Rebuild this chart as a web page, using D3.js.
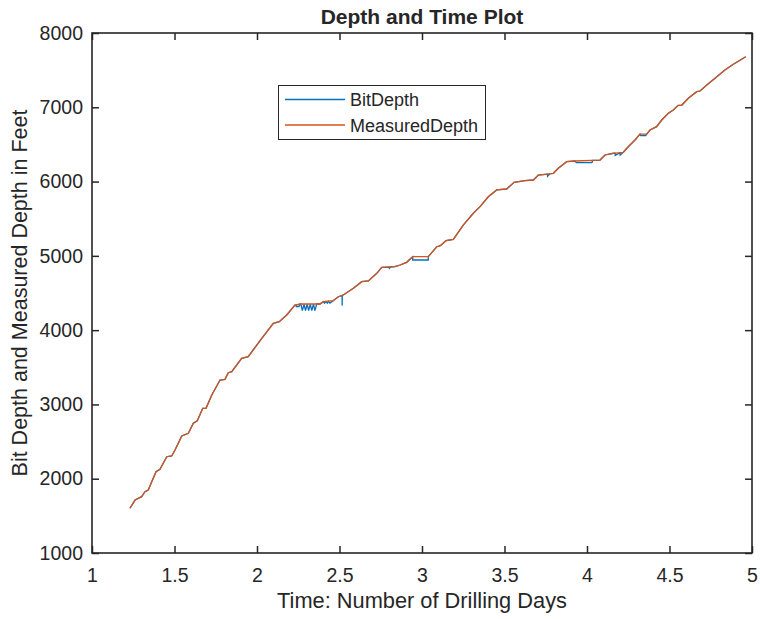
<!DOCTYPE html>
<html>
<head>
<meta charset="utf-8">
<script src="https://cdn.jsdelivr.net/npm/d3@7"></script>
<style>
  body { margin: 0; background: #fff; }
  svg { display: block; }
  text { font-family: "Liberation Sans", Arial, Helvetica, sans-serif; fill: #262626; }
</style>
</head>
<body>
<svg id="chart" width="760" height="619"></svg>
<script>
// ---- data ----
const measuredTime = [1.230,1.261,1.301,1.321,1.341,1.362,1.388,1.412,1.453,1.483,
  1.503,1.544,1.584,1.614,1.638,1.671,1.691,1.726,1.776,1.806,
  1.826,1.847,1.907,1.947,2.029,2.099,2.135,2.180,2.230,2.261,
  2.382,2.402,2.462,2.493,2.523,2.584,2.635,2.675,2.726,2.756,
  2.836,2.867,2.907,2.944,3.038,3.059,3.089,3.109,3.146,3.190,
  3.250,3.311,3.352,3.402,3.453,3.513,3.558,3.624,3.675,3.705,
  3.796,3.826,3.877,3.927,4.079,4.109,4.159,4.220,4.250,4.291,
  4.321,4.362,4.382,4.422,4.453,4.493,4.523,4.553,4.574,4.614,
  4.665,4.685,4.726,4.776,4.836,4.887,4.962];
const measuredDepth = [1602,1713,1758,1825,1848,1960,2094,2127,2296,2306,
  2387,2575,2611,2746,2781,2948,2948,3127,3329,3338,
  3427,3441,3621,3643,3890,4092,4114,4204,4338,4352,
  4352,4383,4396,4450,4473,4563,4652,4662,4765,4846,
  4854,4877,4913,4989,4989,5043,5123,5133,5204,5223,
  5415,5573,5662,5796,5887,5900,5990,6012,6021,6088,
  6111,6179,6268,6277,6290,6358,6381,6394,6469,6560,
  6638,6638,6694,6739,6829,6919,6963,7027,7027,7121,
  7210,7219,7300,7390,7502,7579,7681];

const bitTime = [1.230,1.261,1.301,1.321,1.341,1.362,1.388,1.412,1.453,1.483,
  1.503,1.544,1.584,1.614,1.638,1.671,1.691,1.726,1.776,1.806,
  1.826,1.847,1.907,1.947,2.029,2.099,2.135,2.180,2.230,2.238,2.238,2.255,2.261,
  2.266,2.275,2.285,2.294,2.304,2.313,2.323,2.332,2.342,2.351,2.362,
  2.382,2.402,2.410,2.418,2.426,2.434,2.442,2.462,2.493,2.516,2.516,2.517,2.523,
  2.584,2.635,2.675,2.726,2.756,2.800,2.802,2.810,
  2.836,2.867,2.907,2.944,2.944,3.038,3.038,3.059,3.089,3.109,3.146,3.190,
  3.250,3.311,3.352,3.402,3.453,3.513,3.558,3.624,3.675,3.705,3.760,3.761,3.775,
  3.796,3.826,3.877,3.927,3.935,4.030,4.034,4.079,4.109,4.159,4.170,4.171,4.200,4.201,4.220,4.250,4.291,
  4.321,4.326,4.356,4.362,4.382,4.422,4.453,4.493,4.523,4.553,4.574,4.614,
  4.665,4.685,4.726,4.776,4.836,4.887,4.962];
const bitDepth = [1602,1713,1758,1825,1848,1960,2094,2127,2296,2306,
  2387,2575,2611,2746,2781,2948,2948,3127,3329,3338,
  3427,3441,3621,3643,3890,4092,4114,4204,4338,4338,4318,4318,4352,
  4352,4262,4350,4262,4350,4262,4350,4262,4350,4262,4352,
  4352,4383,4362,4386,4362,4388,4364,4396,4450,4468,4330,4470,4473,
  4563,4652,4662,4765,4846,4848,4832,4850,
  4854,4877,4913,4989,4944,4944,4989,5043,5123,5133,5204,5223,
  5415,5573,5662,5796,5887,5900,5990,6012,6021,6088,6100,6072,6106,
  6111,6179,6268,6277,6256,6256,6284,6290,6358,6381,6383,6352,6388,6356,6394,6469,6560,
  6638,6618,6618,6638,6694,6739,6829,6919,6963,7027,7027,7121,
  7210,7219,7300,7390,7502,7579,7681];

const xTicks = [1, 1.5, 2, 2.5, 3, 3.5, 4, 4.5, 5];
const yTicks = [1000, 2000, 3000, 4000, 5000, 6000, 7000, 8000];
const seriesNames = ["BitDepth", "MeasuredDepth"];
const seriesColors = ["#0072BD", "#D95319"];

// ---- layout ----
const L = 92, R = 752, T = 33, B = 553;
const svg = d3.select("#chart");
const x = d3.scaleLinear().domain([1, 5]).range([L, R]);
const y = d3.scaleLinear().domain([1000, 8000]).range([B, T]);
const axisColor = "#262626";

// lines
const line = d3.line().x(d => x(d[0])).y(d => y(d[1]));
const bitData = bitTime.map((t, i) => [t, bitDepth[i]]);
const mdData = measuredTime.map((t, i) => [t, measuredDepth[i]]);

svg.append("path").datum(bitData).attr("d", line)
  .attr("fill", "none").attr("stroke", seriesColors[0]).attr("stroke-width", 1.3);
svg.append("path").datum(mdData).attr("d", line)
  .attr("fill", "none").attr("stroke", seriesColors[1]).attr("stroke-width", 1.3);

// axes (box with inward ticks)
const fmt = d => String(d);
function styleAxis(g) {
  g.select(".domain").remove();
  g.selectAll(".tick line").attr("stroke", axisColor).attr("stroke-width", 1.5);
  g.selectAll(".tick text").attr("fill", axisColor)
    .style("font-size", "19.5px").style("font-family", "'Liberation Sans', Arial, sans-serif");
}
svg.append("g").attr("transform", `translate(0,${B})`)
  .call(d3.axisBottom(x).tickValues(xTicks).tickFormat(fmt).tickSizeInner(-7).tickSizeOuter(0).tickPadding(15))
  .call(styleAxis);
svg.append("g").attr("transform", `translate(0,${T})`)
  .call(d3.axisTop(x).tickValues(xTicks).tickFormat("").tickSizeInner(-7).tickSizeOuter(0))
  .call(styleAxis);
svg.append("g").attr("transform", `translate(${L},0)`)
  .call(d3.axisLeft(y).tickValues(yTicks).tickFormat(fmt).tickSizeInner(-7).tickSizeOuter(0).tickPadding(9))
  .call(styleAxis);
svg.append("g").attr("transform", `translate(${R},0)`)
  .call(d3.axisRight(y).tickValues(yTicks).tickFormat("").tickSizeInner(-7).tickSizeOuter(0))
  .call(styleAxis);

svg.append("rect").attr("x", L).attr("y", T).attr("width", R - L).attr("height", B - T)
  .attr("fill", "none").attr("stroke", axisColor).attr("stroke-width", 1.6);

// title and labels
svg.append("text").attr("x", (L + R) / 2).attr("y", 24).attr("text-anchor", "middle")
  .style("font-size", "21px").style("font-weight", "bold").attr("fill", "#000")
  .text("Depth and Time Plot");
svg.append("text").attr("x", (L + R) / 2).attr("y", 608).attr("text-anchor", "middle")
  .style("font-size", "21.8px").text("Time: Number of Drilling Days");
svg.append("text").attr("transform", `translate(27,${(T + B) / 2}) rotate(-90)`)
  .attr("text-anchor", "middle").style("font-size", "21.5px")
  .text("Bit Depth and Measured Depth in Feet");

// legend
const lg = svg.append("g");
lg.append("rect").attr("x", 278.5).attr("y", 85.5).attr("width", 207).attr("height", 54)
  .attr("fill", "#fff").attr("stroke", "#262626").attr("stroke-width", 1);
const rows = [99.5, 125];
seriesNames.forEach((name, i) => {
  lg.append("line").attr("x1", 285).attr("x2", 345).attr("y1", rows[i]).attr("y2", rows[i])
    .attr("stroke", seriesColors[i]).attr("stroke-width", 1.3);
  lg.append("text").attr("x", 350).attr("y", rows[i] + 6.5).style("font-size", "18px")
    .attr("fill", "#000").text(name);
});
</script>
</body>
</html>
